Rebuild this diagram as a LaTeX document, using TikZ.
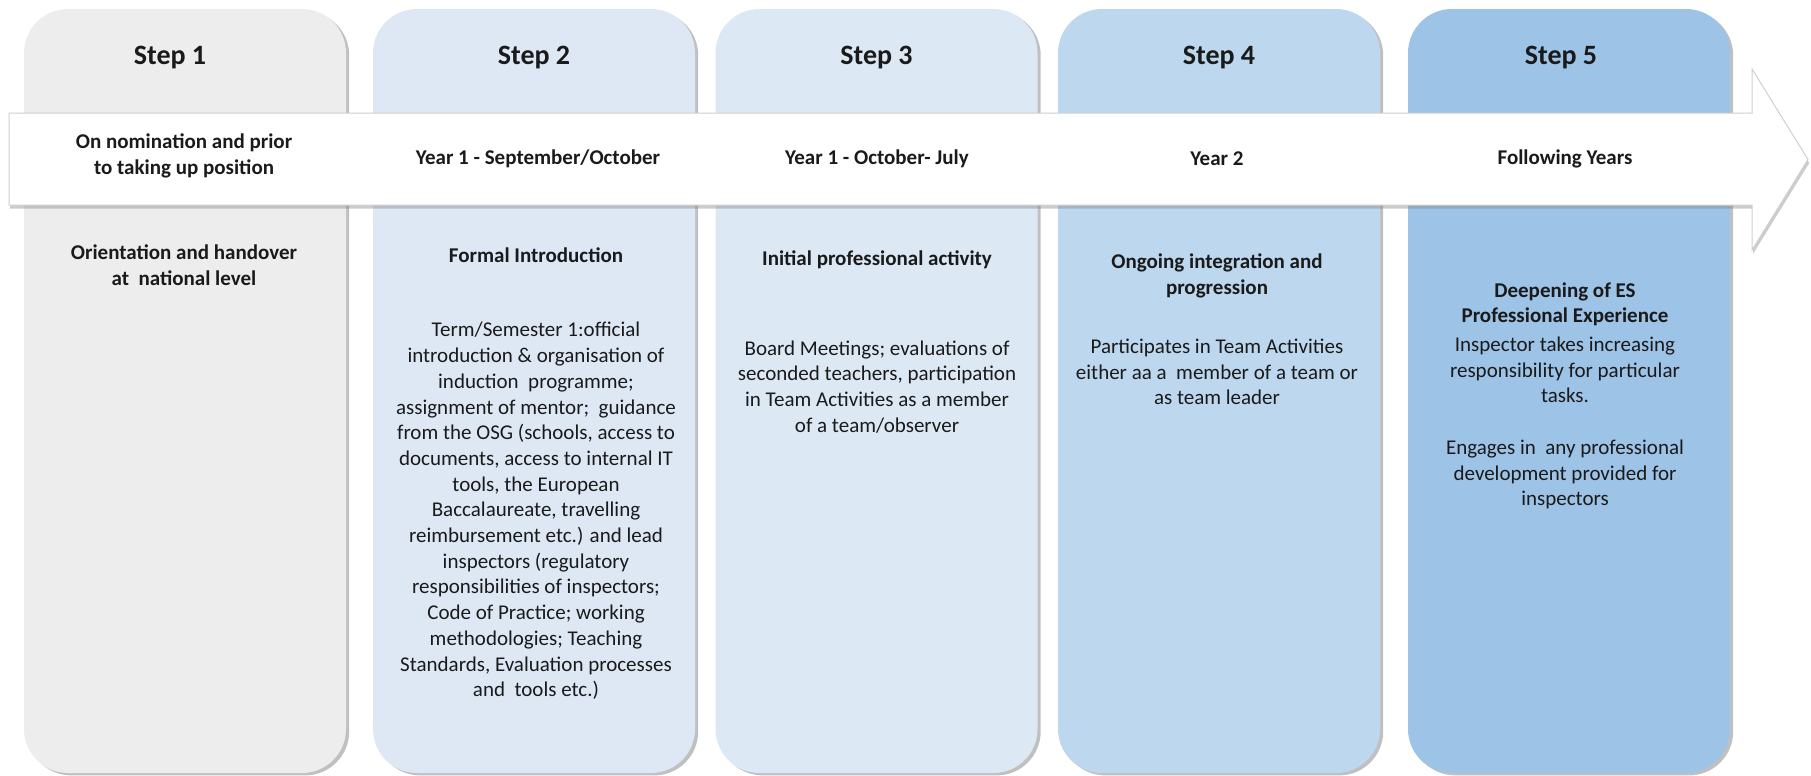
\documentclass[tikz,border=0pt]{standalone}
\usepackage{fontspec}
\setmainfont{Carlito}
\usetikzlibrary{shadows}
\definecolor{colA}{HTML}{EDEDED}
\definecolor{colB}{HTML}{DEE8F5}
\definecolor{colC}{HTML}{DDE8F5}
\definecolor{colD}{HTML}{BDD7EE}
\definecolor{colE}{HTML}{9DC3E6}
\definecolor{arrowline}{HTML}{CFCFCF}
\definecolor{txt}{HTML}{1A1A1A}
\begin{document}
\begin{tikzpicture}[x=0.5pt,y=-0.5pt,
  stepcol/.style={draw=none, rounded corners=22pt, minimum width=161pt, minimum height=382pt, inner sep=0pt,
    drop shadow={shadow xshift=1.6pt, shadow yshift=-1.2pt, opacity=0.45, fill=black!55}},
  steptitle/.style={font=\fontsize{14}{16}\selectfont\bfseries, text=txt, inner sep=0pt},
  timetext/.style={font=\fontsize{10.5}{12.8}\selectfont\bfseries, text=txt, align=center, inner sep=0pt},
  headtext/.style={font=\fontsize{10.5}{12.7}\selectfont\bfseries, text=txt, align=center, inner sep=0pt},
  bodytext/.style={font=\fontsize{10.5}{12.85}\selectfont, text=txt, align=center, inner sep=0pt},
  timearrow/.style={draw=arrowline, line width=0.5pt, fill=white,
    drop shadow={shadow xshift=0.6pt, shadow yshift=-1.8pt, opacity=0.4, fill=black!50}}
]
\useasboundingbox (0,0) rectangle (1811,776);

% columns
\node[stepcol, fill=colA] (col1) at (185,391) {};
\node[stepcol, fill=colB] (col2) at (534,391) {};
\node[stepcol, fill=colC] (col3) at (876.5,391) {};
\node[stepcol, fill=colD] (col4) at (1219,391) {};
\node[stepcol, fill=colE] (col5) at (1569,391) {};

% titles
\node[steptitle] (title1) at (170,58) {Step 1};
\node[steptitle] (title2) at (534,58) {Step 2};
\node[steptitle] (title3) at (876.5,58) {Step 3};
\node[steptitle] (title4) at (1219,58) {Step 4};
\node[steptitle] (title5) at (1561,58) {Step 5};

% timeline arrow
\coordinate (aTL) at (9,113);
\coordinate (aTR) at (1752,113);
\coordinate (hT) at (1752,69);
\coordinate (tip) at (1808,159.5);
\coordinate (hB) at (1752,250);
\coordinate (aBR) at (1752,205);
\coordinate (aBL) at (9,205);
\path[timearrow] (aTL) -- (aTR) -- (hT) -- (tip) -- (hB) -- (aBR) -- (aBL) -- cycle;

% timeline texts
\node[timetext] (time1) at (184,156) {On nomination and prior\\to taking up position};
\node[timetext] (time2) at (538,159) {Year 1 - September/October};
\node[timetext] (time3) at (877,159) {Year 1 - October- July};
\node[timetext] (time4) at (1217,159) {Year 2};
\node[timetext] (time5) at (1565,159) {Following Years};

% headings
\node[headtext] (head1) at (184,265) {Orientation and handover\\at\ \ national level};
\node[headtext] (head2) at (536,255) {Formal Introduction};
\node[headtext] (head3) at (877,260) {Initial professional activity};
\node[headtext] (head4) at (1217,276) {Ongoing integration and\\progression};
\node[headtext] (head5) at (1565,304.5) {Deepening of ES\\Professional Experience};

% bodies
\node[bodytext] (body2) at (536,511) {Term/Semester 1:official\\introduction \& organisation of\\induction\ \ programme;\\assignment of mentor;\ \ guidance\\from the OSG (schools, access to\\documents, access to internal IT\\tools, the European\\Baccalaureate, travelling\\reimbursement etc.) and lead\\inspectors (regulatory\\responsibilities of inspectors;\\Code of Practice; working\\methodologies; Teaching\\Standards, Evaluation processes\\and\ \ tools etc.)};
\node[bodytext] (body3) at (877,387) {Board Meetings; evaluations of\\seconded teachers, participation\\in Team Activities as a member\\of a team/observer};
\node[bodytext] (body4) at (1217,372) {Participates in Team Activities\\either aa a\ \ member of a team or\\as team leader};
\node[bodytext] (body5) at (1565,423) {Inspector takes increasing\\responsibility for particular\\tasks.\\[12.85pt]Engages in\ \ any professional\\development provided for\\inspectors};
\end{tikzpicture}
\end{document}
